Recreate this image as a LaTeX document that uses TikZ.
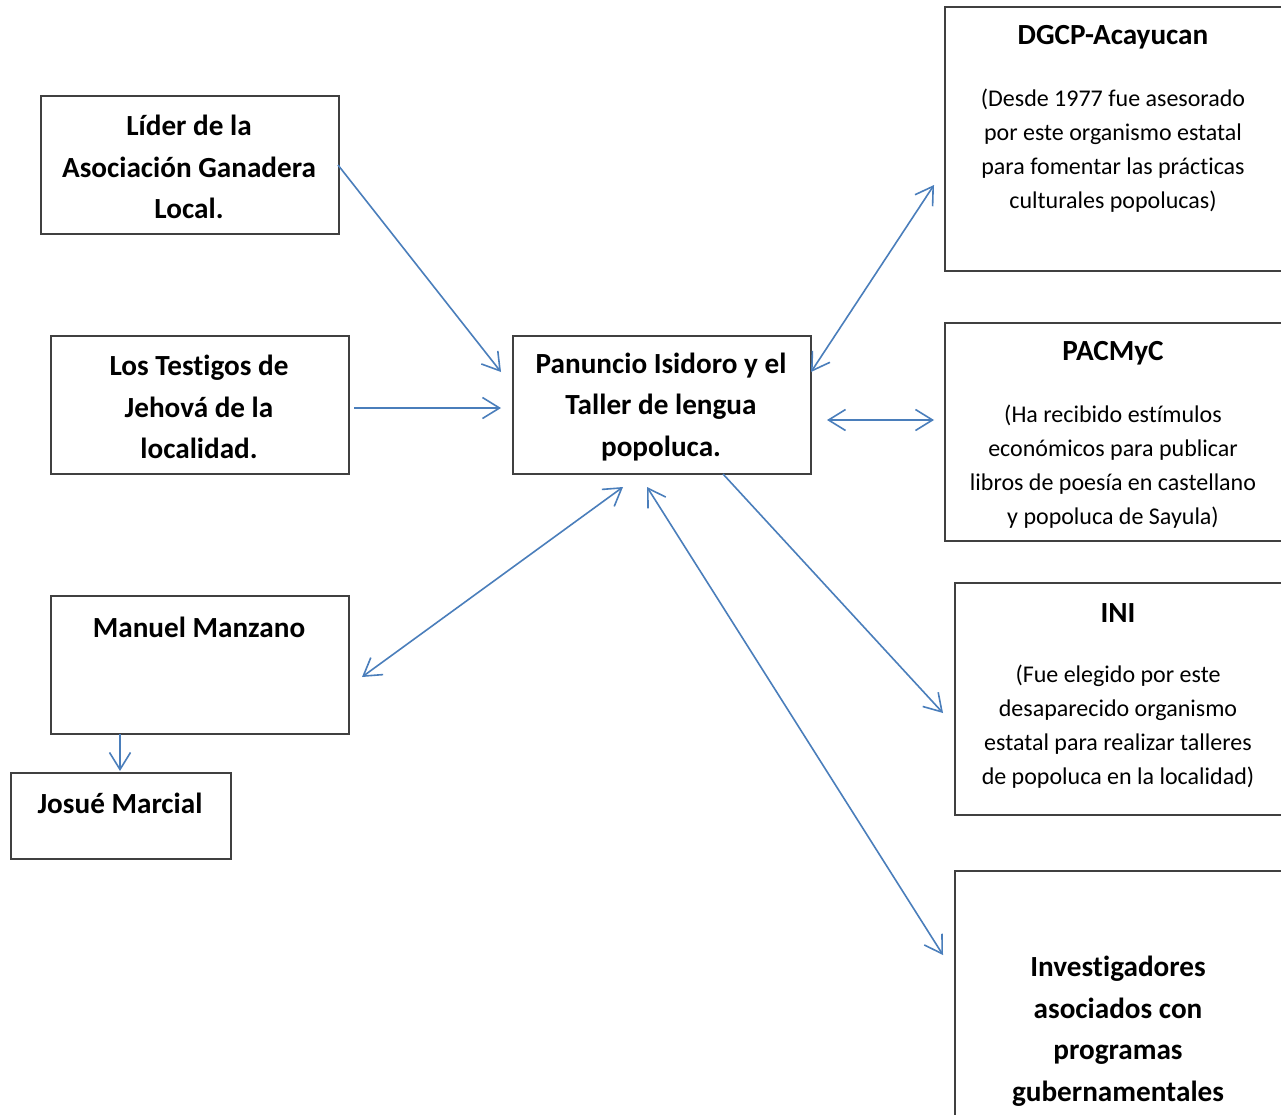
\documentclass[tikz,border=0pt]{standalone}
\usepackage{fontspec}
\setmainfont{Carlito}[Ligatures=NoCommon]
\usetikzlibrary{arrows.meta}
\definecolor{arrowblue}{RGB}{74,126,187}
\definecolor{boxgray}{RGB}{64,64,64}
\begin{document}
\begin{tikzpicture}[x=1pt,y=-1pt,
  box/.style={draw=boxgray,line width=1.6pt,rectangle,inner sep=0pt,anchor=north west,fill=white},
  bt/.style={inner sep=0pt,align=center,font=\fontsize{29.2}{41.5}\selectfont\bfseries},
  nt/.style={inner sep=0pt,align=center,font=\fontsize{24}{34}\selectfont},
  conn/.style={draw=arrowblue,line width=1.6pt,-{Straight Barb[length=17pt,width=21pt,line width=1.6pt]}},
  conn2/.style={draw=arrowblue,line width=1.6pt,{Straight Barb[length=17pt,width=21pt,line width=1.6pt]}-{Straight Barb[length=17pt,width=21pt,line width=1.6pt]}}
]
\useasboundingbox (0,0) rectangle (1281,1114);
\clip (0,0) rectangle (1281,1114);
\fill[white] (0,0) rectangle (1281,1114);

% boxes
\node[box,minimum width=298pt,minimum height=138pt] (lider) at (40,95) {};
\node[box,minimum width=298pt,minimum height=138pt] (testigos) at (50,335) {};
\node[box,minimum width=298pt,minimum height=138pt] (manuel) at (50,595) {};
\node[box,minimum width=220pt,minimum height=86pt] (josue) at (10,772) {};
\node[box,minimum width=298pt,minimum height=138pt] (panuncio) at (512,335) {};
\node[box,minimum width=360pt,minimum height=264pt] (dgcp) at (944,6) {};
\node[box,minimum width=360pt,minimum height=218pt] (pacmyc) at (944,322) {};
\node[box,minimum width=360pt,minimum height=232pt] (ini) at (954,582) {};
\node[box,minimum width=360pt,minimum height=300pt] (invest) at (954,870) {};

% texts
\node[bt] (liderT) at (189,167) {Líder de la\\Asociación Ganadera\\Local.};
\node[bt] (testigosT) at (199,407) {Los Testigos de\\Jehová de la\\localidad.};
\node[bt] (panuncioT) at (661,407) {Panuncio Isidoro y el\\Taller de lengua\\popoluca.};
\node[bt] (manuelT) at (199,627) {Manuel Manzano};
\node[bt] (josueT) at (120,803) {Josué Marcial};
\node[bt] (dgcpT) at (1113,37) {DGCP-Acayucan};
\node[nt] (dgcpB) at (1113,151) {(Desde 1977 fue asesorado\\por este organismo estatal\\para fomentar las prácticas\\culturales popolucas)};
\node[bt] (pacmycT) at (1113,353) {PACMyC};
\node[nt] (pacmycB) at (1113,466.5) {(Ha recibido estímulos\\económicos para publicar\\libros de poesía en castellano\\y popoluca de Sayula)};
\node[bt] (iniT) at (1118,613) {INI};
\node[nt] (iniB) at (1118,727) {(Fue elegido por este\\desaparecido organismo\\estatal para realizar talleres\\de popoluca en la localidad)};
\node[bt] (investT) at (1118,1031) {Investigadores\\asociados con\\programas\\gubernamentales};

% connector end points
\coordinate (a1) at (338,165);
\coordinate (a2) at (501,372);
\coordinate (b1) at (354,408);
\coordinate (b2) at (501,408);
\coordinate (c1) at (623,487);
\coordinate (c2) at (362,677);
\coordinate (d1) at (811,372);
\coordinate (d2) at (934,185);
\coordinate (e1) at (827,420);
\coordinate (e2) at (934,420);
\coordinate (f1) at (723,474);
\coordinate (f2) at (943,713);
\coordinate (g1) at (647,487);
\coordinate (g2) at (943,955);
\coordinate (h1) at (120,734);
\coordinate (h2) at (120,771);

% connectors
\draw[conn] (a1) -- (a2);
\draw[conn] (b1) -- (b2);
\draw[conn2] (c1) -- (c2);
\draw[conn2] (d1) -- (d2);
\draw[conn2] (e1) -- (e2);
\draw[conn] (f1) -- (f2);
\draw[conn2] (g1) -- (g2);
\draw[conn] (h1) -- (h2);
\end{tikzpicture}
\end{document}
